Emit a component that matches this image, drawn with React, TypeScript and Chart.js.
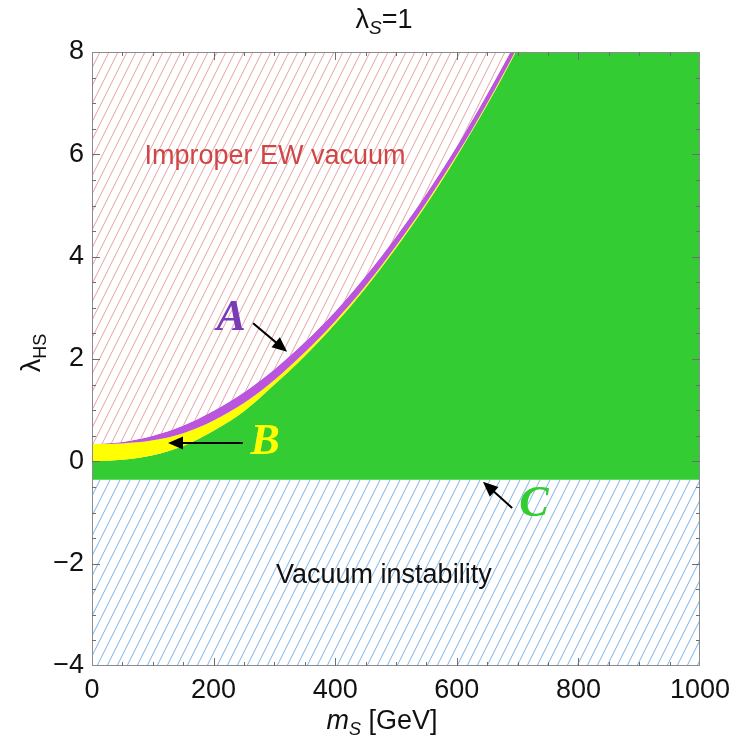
import { useEffect, useRef } from "react";
import { Chart, registerables } from "chart.js";

Chart.register(...registerables);

// Scalar singlet mass m_S [GeV] sampled along the boundary curves
const massGeV = [0, 50, 100, 150, 200, 250, 300, 350, 400, 450, 500, 550, 600, 650, 700, 800, 900, 1000];
// Upper edge of region A (start of the improper EW vacuum region)
const improperEdge = [0.34, 0.38, 0.5, 0.7, 0.99, 1.35, 1.8, 2.33, 2.93, 3.62, 4.39, 5.23, 6.16, 7.18, 8.27, 10.7, 13.4, 16.5];
// Boundary between regions A and B
const edgeAB = [0.34, 0.35, 0.41, 0.55, 0.8, 1.14, 1.59, 2.13, 2.74, 3.43, 4.21, 5.06, 5.99, 7.0, 8.1, 10.5, 13.2, 16.3];
// Boundary between regions B and C
const edgeBC = [0.0, 0.03, 0.12, 0.3, 0.6, 0.98, 1.5, 2.06, 2.69, 3.39, 4.17, 5.02, 5.96, 6.97, 8.07, 10.48, 13.18, 16.28];
// Vacuum stability bound on λ_HS
const stabilityBound = -0.36;

// Axis ranges and ticks
const xRange = [0, 1000];
const yRange = [-4, 8];
const xMajorStep = 200;
const xMinorStep = 50;
const yMajorStep = 2;
const yMinorStep = 0.5;

// Region labels with pointer arrows (data coordinates)
const regionLetters = ["A", "B", "C"];
const letterColors = ["#7a3cb6", "#ffff00", "#33cc33"];
const letterMass = [229, 285, 727];
const letterLambda = [2.78, 0.36, -0.85];
const arrowTailMass = [265, 248, 691];
const arrowTailLambda = [2.7, 0.36, -0.91];
const arrowTipMass = [321, 125, 643];
const arrowTipLambda = [2.14, 0.36, -0.4];

// Region captions (data coordinates)
const captions = ["Improper EW vacuum", "Vacuum instability"];
const captionColors = ["#d04545", "#111111"];
const captionMass = [301, 480];
const captionLambda = [5.95, -2.24];

const SANS = "'Liberation Sans', Arial, sans-serif";
const SERIF = "'Liberation Serif', 'Times New Roman', serif";

type Run = { text: string; font: string; dy: number };

function drawRuns(ctx: CanvasRenderingContext2D, runs: Run[], cx: number, baseline: number) {
  let total = 0;
  for (const r of runs) {
    ctx.font = r.font;
    total += ctx.measureText(r.text).width;
  }
  let x = cx - total / 2;
  ctx.textAlign = "left";
  ctx.textBaseline = "alphabetic";
  for (const r of runs) {
    ctx.font = r.font;
    ctx.fillText(r.text, x, baseline + r.dy);
    x += ctx.measureText(r.text).width;
  }
}

function drawArrow(ctx: CanvasRenderingContext2D, x0: number, y0: number, x1: number, y1: number) {
  const ang = Math.atan2(y1 - y0, x1 - x0);
  const head = 15;
  const half = 6.5;
  const c = Math.cos(ang);
  const s = Math.sin(ang);
  ctx.beginPath();
  ctx.moveTo(x0, y0);
  ctx.lineTo(x1 - head * 0.8 * c, y1 - head * 0.8 * s);
  ctx.stroke();
  ctx.beginPath();
  ctx.moveTo(x1, y1);
  ctx.lineTo(x1 - head * c + half * s, y1 - head * s - half * c);
  ctx.lineTo(x1 - head * c - half * s, y1 - head * s + half * c);
  ctx.closePath();
  ctx.fill();
}

const decorPlugin = {
  id: "decor",
  afterDatasetsDraw(chart: any) {
    const { ctx, chartArea: a, scales } = chart;
    const xs = scales.x;
    const ys = scales.y;
    ctx.save();

    // frame
    ctx.strokeStyle = "#8c8c8c";
    ctx.lineWidth = 1;
    ctx.strokeRect(a.left + 0.5, a.top + 0.5, a.right - a.left - 1, a.bottom - a.top - 1);

    // inward ticks on all four sides
    ctx.strokeStyle = "#6e6e6e";
    ctx.beginPath();
    for (let v = xRange[0] + xMinorStep; v < xRange[1]; v += xMinorStep) {
      const len = v % xMajorStep === 0 ? 8 : 4;
      const px = Math.round(xs.getPixelForValue(v)) + 0.5;
      ctx.moveTo(px, a.bottom);
      ctx.lineTo(px, a.bottom - len);
      ctx.moveTo(px, a.top);
      ctx.lineTo(px, a.top + len);
    }
    for (let v = yRange[0] + yMinorStep; v < yRange[1] - 1e-9; v += yMinorStep) {
      const major = Math.abs(v / yMajorStep - Math.round(v / yMajorStep)) < 1e-9;
      const len = major ? 8 : 4;
      const py = Math.round(ys.getPixelForValue(v)) + 0.5;
      ctx.moveTo(a.left, py);
      ctx.lineTo(a.left + len, py);
      ctx.moveTo(a.right, py);
      ctx.lineTo(a.right - len, py);
    }
    ctx.stroke();

    // captions
    ctx.textAlign = "center";
    ctx.textBaseline = "middle";
    ctx.font = `27px ${SANS}`;
    captions.forEach((t, i) => {
      ctx.fillStyle = captionColors[i];
      ctx.fillText(t, xs.getPixelForValue(captionMass[i]), ys.getPixelForValue(captionLambda[i]));
    });

    // arrows
    ctx.strokeStyle = "#000";
    ctx.fillStyle = "#000";
    ctx.lineWidth = 2;
    regionLetters.forEach((_, i) => {
      drawArrow(
        ctx,
        xs.getPixelForValue(arrowTailMass[i]),
        ys.getPixelForValue(arrowTailLambda[i]),
        xs.getPixelForValue(arrowTipMass[i]),
        ys.getPixelForValue(arrowTipLambda[i])
      );
    });

    // letters
    ctx.font = `italic bold 44px ${SERIF}`;
    ctx.textAlign = "center";
    ctx.textBaseline = "middle";
    regionLetters.forEach((t, i) => {
      ctx.fillStyle = letterColors[i];
      ctx.fillText(t, xs.getPixelForValue(letterMass[i]), ys.getPixelForValue(letterLambda[i]));
    });
    ctx.restore();
  },
  afterDraw(chart: any) {
    const { ctx } = chart;
    ctx.save();
    ctx.fillStyle = "#111";
    // plot title
    drawRuns(
      ctx,
      [
        { text: "λ", font: `27px ${SANS}`, dy: 0 },
        { text: "S", font: `italic 19px ${SANS}`, dy: 6 },
        { text: "=1", font: `27px ${SANS}`, dy: 0 },
      ],
      384,
      28
    );
    // x-axis title
    drawRuns(
      ctx,
      [
        { text: "m", font: `italic 27px ${SANS}`, dy: 0 },
        { text: "S", font: `italic 18px ${SANS}`, dy: 6 },
        { text: " [GeV]", font: `27px ${SANS}`, dy: 0 },
      ],
      382,
      729
    );
    // y-axis title
    ctx.translate(40, 353);
    ctx.rotate(-Math.PI / 2);
    drawRuns(
      ctx,
      [
        { text: "λ", font: `27px ${SANS}`, dy: 0 },
        { text: "HS", font: `18px ${SANS}`, dy: 6 },
      ],
      0,
      0
    );
    ctx.restore();
  },
};

function makeHatch(ctx: CanvasRenderingContext2D, lineColor: string, spacing: number) {
  const tile = document.createElement("canvas");
  const w = spacing;
  const h = spacing * 2;
  tile.width = w;
  tile.height = h;
  const c = tile.getContext("2d")!;
  c.fillStyle = "#ffffff";
  c.fillRect(0, 0, w, h);
  c.strokeStyle = lineColor;
  c.lineWidth = 1;
  for (const off of [-w, 0, w]) {
    c.beginPath();
    c.moveTo(off, h);
    c.lineTo(off + w, 0);
    c.stroke();
  }
  return ctx.createPattern(tile, "repeat") as CanvasPattern;
}

function pts(ys: number[]) {
  return massGeV.map((m, i) => ({ x: m, y: ys[i] }));
}

export default function App() {
  const canvasRef = useRef<HTMLCanvasElement | null>(null);

  useEffect(() => {
    const canvas = canvasRef.current;
    if (!canvas) return;
    const ctx = canvas.getContext("2d")!;
    const redHatch = makeHatch(ctx, "rgba(214,110,110,0.65)", 9);
    const blueHatch = makeHatch(ctx, "rgba(90,160,225,0.8)", 10);

    const common = {
      pointRadius: 0,
      borderWidth: 0,
      cubicInterpolationMode: "monotone" as const,
    };

    const chart = new Chart(ctx, {
      type: "line",
      data: {
        datasets: [
          { ...common, label: "improper", data: pts(improperEdge), fill: "end", backgroundColor: redHatch },
          { ...common, label: "A", data: pts(edgeAB), fill: "-1", backgroundColor: "#bb55dd" },
          { ...common, label: "B", data: pts(edgeBC), fill: "-1", backgroundColor: "#ffff00" },
          { ...common, label: "C", data: pts(edgeBC), fill: { value: stabilityBound }, backgroundColor: "#33cc33" },
          {
            ...common,
            label: "unstable",
            data: [
              { x: xRange[0], y: stabilityBound },
              { x: xRange[1], y: stabilityBound },
            ],
            fill: "start",
            backgroundColor: blueHatch,
          },
        ],
      },
      options: {
        animation: false,
        responsive: false,
        parsing: true,
        layout: { padding: { top: 52, right: 35, left: 0, bottom: 0 } },
        plugins: { legend: { display: false }, tooltip: { enabled: false }, title: { display: false } },
        events: [],
        scales: {
          x: {
            type: "linear",
            min: xRange[0],
            max: xRange[1],
            grid: { display: false, drawTicks: false },
            border: { display: false },
            ticks: {
              stepSize: xMajorStep,
              autoSkip: false,
              maxRotation: 0,
              padding: 8,
              color: "#111",
              font: { family: SANS, size: 27 },
              callback: (v: any) => String(v),
            },
            afterFit: (s: any) => {
              s.height = 78;
              s.paddingLeft = 0;
              s.paddingRight = 0;
            },
          },
          y: {
            type: "linear",
            min: yRange[0],
            max: yRange[1],
            grid: { display: false, drawTicks: false },
            border: { display: false },
            ticks: {
              stepSize: yMajorStep,
              autoSkip: false,
              padding: 8,
              color: "#111",
              font: { family: SANS, size: 27 },
              callback: (v: any) => (Number(v) < 0 ? "\u2212" + Math.abs(Number(v)) : String(v)),
            },
            afterFit: (s: any) => {
              s.width = 92;
            },
          },
        },
      },
      plugins: [decorPlugin],
    });

    return () => chart.destroy();
  }, []);

  return (
    <div style={{ position: "absolute", left: 0, top: 0, width: 735, height: 744, background: "#fff" }}>
      <canvas ref={canvasRef} width={735} height={744} style={{ display: "block" }} />
    </div>
  );
}
